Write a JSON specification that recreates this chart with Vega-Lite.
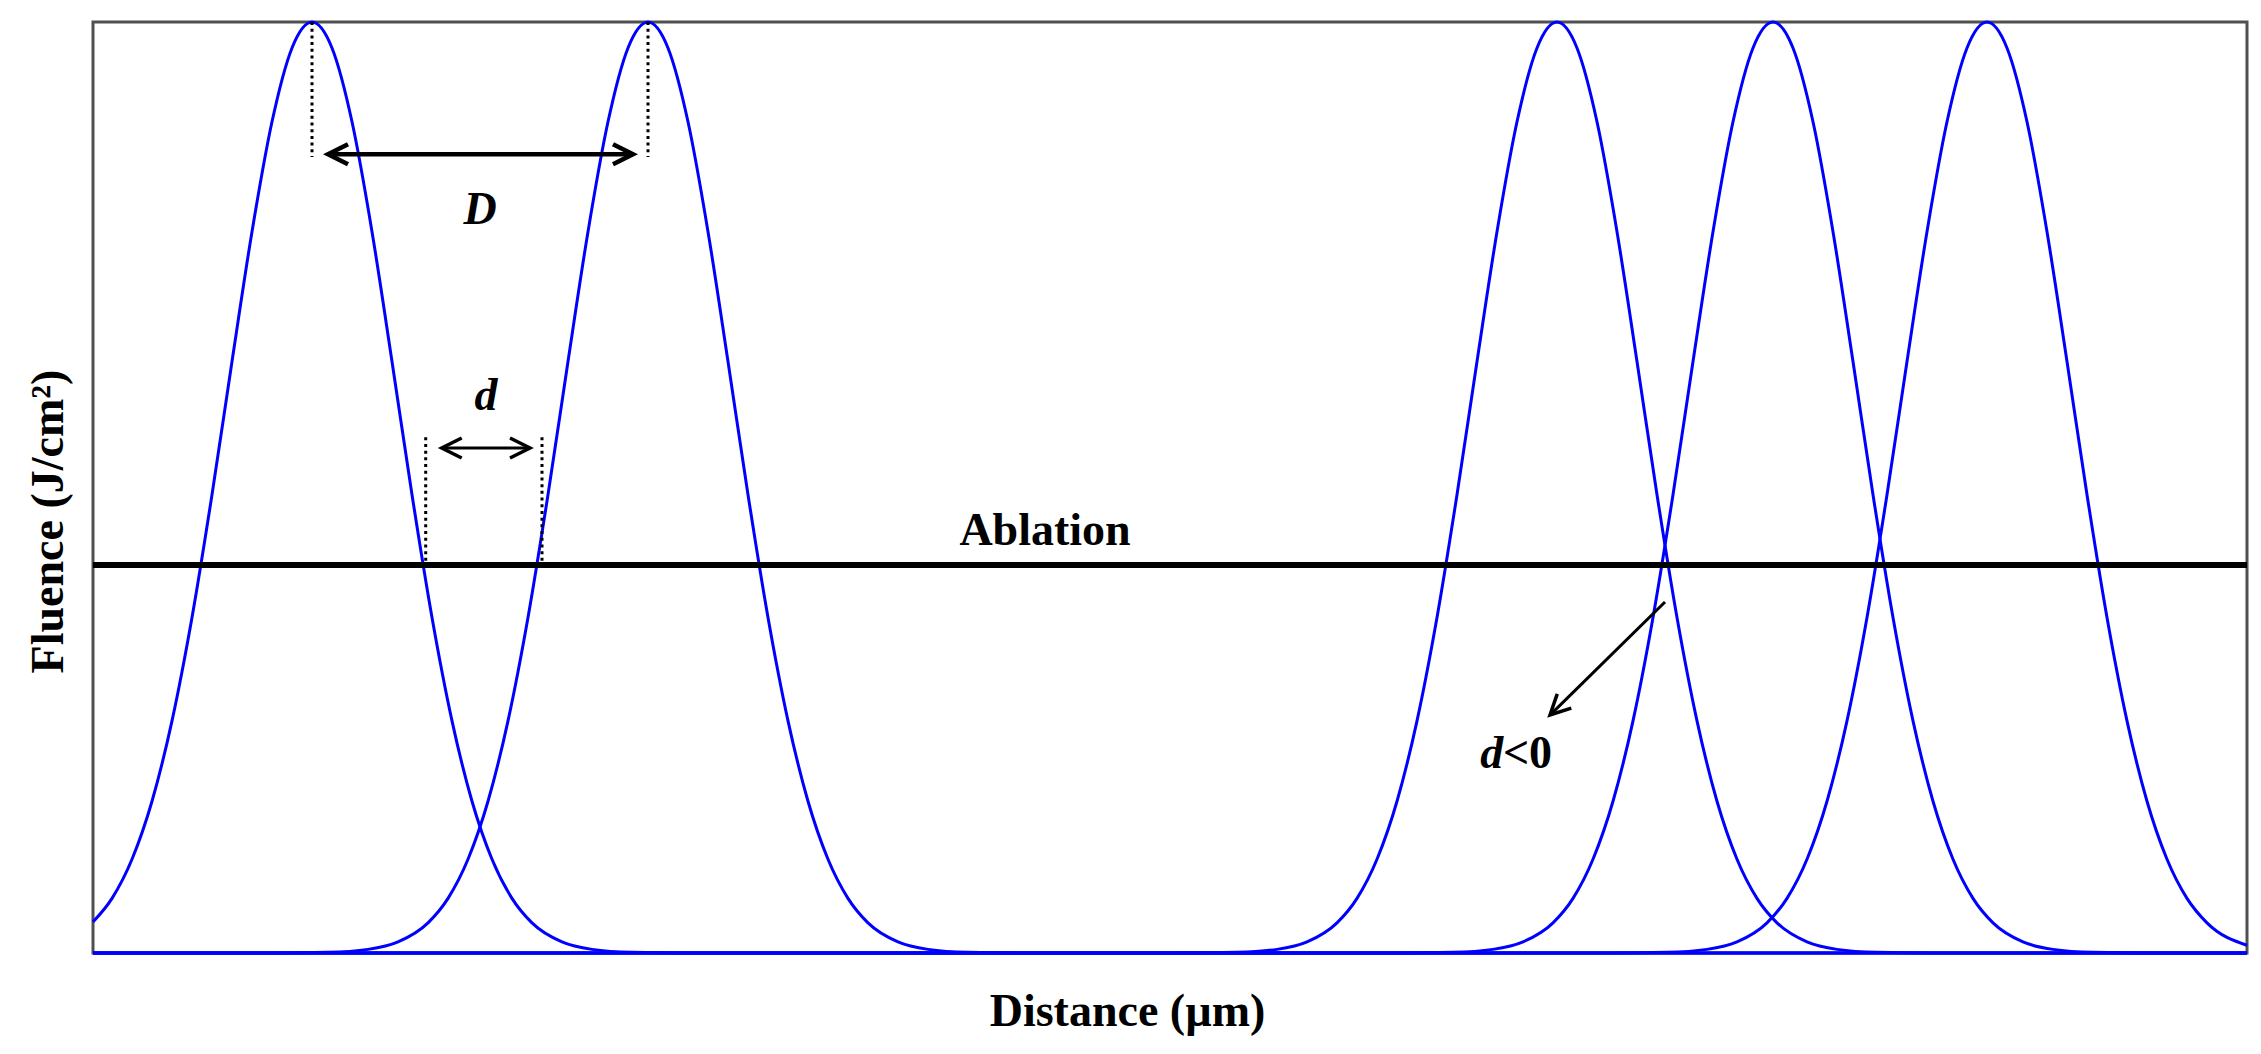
{
  "$schema": "https://vega.github.io/schema/vega-lite/v6.json",
  "width": 2154,
  "height": 931,
  "autosize": {"type": "none"},
  "padding": {"left": 93, "top": 22, "right": 14, "bottom": 101},
  "background": "white",
  "config": {
    "view": {"stroke": "#505050", "strokeWidth": 3},
    "font": "Liberation Serif",
    "axis": {"domain": false, "ticks": false, "labels": false, "grid": false, "titleFont": "Liberation Serif", "titleFontWeight": "bold", "titleFontSize": 46, "titleColor": "black"}
  },
  "datasets": {
    "curves": [
      {"s": "1", "x": 0, "y": 0.0334}, {"s": "1", "x": 1.9, "y": 0.0587}, {"s": "1", "x": 3.9, "y": 0.1007}, {"s": "1", "x": 5.9, "y": 0.163}, {"s": "1", "x": 7.9, "y": 0.2494}, {"s": "1", "x": 9.9, "y": 0.3604}, {"s": "1", "x": 11.9, "y": 0.4923}, {"s": "1", "x": 13.9, "y": 0.6354}, {"s": "1", "x": 15.9, "y": 0.7748}, {"s": "1", "x": 17.9, "y": 0.8928}, {"s": "1", "x": 19.9, "y": 0.9721}, {"s": "1", "x": 21.9, "y": 1}, {"s": "1", "x": 23.9, "y": 0.9721}, {"s": "1", "x": 25.9, "y": 0.8928}, {"s": "1", "x": 27.9, "y": 0.7748}, {"s": "1", "x": 29.9, "y": 0.6354}, {"s": "1", "x": 31.9, "y": 0.4923}, {"s": "1", "x": 33.9, "y": 0.3604}, {"s": "1", "x": 35.9, "y": 0.2494}, {"s": "1", "x": 37.9, "y": 0.163}, {"s": "1", "x": 39.9, "y": 0.1007}, {"s": "1", "x": 41.9, "y": 0.0587}, {"s": "1", "x": 43.9, "y": 0.0324}, {"s": "1", "x": 46.9, "y": 0.0119}, {"s": "1", "x": 49.9, "y": 0.0039}, {"s": "1", "x": 53.9, "y": 0.0007}, {"s": "1", "x": 59.9, "y": 0}, {"s": "1", "x": 215.4, "y": 0},
      {"s": "2", "x": 0, "y": 0}, {"s": "2", "x": 17.5, "y": 0}, {"s": "2", "x": 23.5, "y": 0.0007}, {"s": "2", "x": 27.5, "y": 0.0039}, {"s": "2", "x": 30.5, "y": 0.0119}, {"s": "2", "x": 33.5, "y": 0.0324}, {"s": "2", "x": 35.5, "y": 0.0587}, {"s": "2", "x": 37.5, "y": 0.1007}, {"s": "2", "x": 39.5, "y": 0.163}, {"s": "2", "x": 41.5, "y": 0.2494}, {"s": "2", "x": 43.5, "y": 0.3604}, {"s": "2", "x": 45.5, "y": 0.4923}, {"s": "2", "x": 47.5, "y": 0.6354}, {"s": "2", "x": 49.5, "y": 0.7748}, {"s": "2", "x": 51.5, "y": 0.8928}, {"s": "2", "x": 53.5, "y": 0.9721}, {"s": "2", "x": 55.5, "y": 1}, {"s": "2", "x": 57.5, "y": 0.9721}, {"s": "2", "x": 59.5, "y": 0.8928}, {"s": "2", "x": 61.5, "y": 0.7748}, {"s": "2", "x": 63.5, "y": 0.6354}, {"s": "2", "x": 65.5, "y": 0.4923}, {"s": "2", "x": 67.5, "y": 0.3604}, {"s": "2", "x": 69.5, "y": 0.2494}, {"s": "2", "x": 71.5, "y": 0.163}, {"s": "2", "x": 73.5, "y": 0.1007}, {"s": "2", "x": 75.5, "y": 0.0587}, {"s": "2", "x": 77.5, "y": 0.0324}, {"s": "2", "x": 80.5, "y": 0.0119}, {"s": "2", "x": 83.5, "y": 0.0039}, {"s": "2", "x": 87.5, "y": 0.0007}, {"s": "2", "x": 93.5, "y": 0}, {"s": "2", "x": 215.4, "y": 0},
      {"s": "3", "x": 0, "y": 0}, {"s": "3", "x": 108.4, "y": 0}, {"s": "3", "x": 114.4, "y": 0.0007}, {"s": "3", "x": 118.4, "y": 0.0039}, {"s": "3", "x": 121.4, "y": 0.0119}, {"s": "3", "x": 124.4, "y": 0.0324}, {"s": "3", "x": 126.4, "y": 0.0587}, {"s": "3", "x": 128.4, "y": 0.1007}, {"s": "3", "x": 130.4, "y": 0.163}, {"s": "3", "x": 132.4, "y": 0.2494}, {"s": "3", "x": 134.4, "y": 0.3604}, {"s": "3", "x": 136.4, "y": 0.4923}, {"s": "3", "x": 138.4, "y": 0.6354}, {"s": "3", "x": 140.4, "y": 0.7748}, {"s": "3", "x": 142.4, "y": 0.8928}, {"s": "3", "x": 144.4, "y": 0.9721}, {"s": "3", "x": 146.4, "y": 1}, {"s": "3", "x": 148.4, "y": 0.9721}, {"s": "3", "x": 150.4, "y": 0.8928}, {"s": "3", "x": 152.4, "y": 0.7748}, {"s": "3", "x": 154.4, "y": 0.6354}, {"s": "3", "x": 156.4, "y": 0.4923}, {"s": "3", "x": 158.4, "y": 0.3604}, {"s": "3", "x": 160.4, "y": 0.2494}, {"s": "3", "x": 162.4, "y": 0.163}, {"s": "3", "x": 164.4, "y": 0.1007}, {"s": "3", "x": 166.4, "y": 0.0587}, {"s": "3", "x": 168.4, "y": 0.0324}, {"s": "3", "x": 171.4, "y": 0.0119}, {"s": "3", "x": 174.4, "y": 0.0039}, {"s": "3", "x": 178.4, "y": 0.0007}, {"s": "3", "x": 184.4, "y": 0}, {"s": "3", "x": 215.4, "y": 0},
      {"s": "4", "x": 0, "y": 0}, {"s": "4", "x": 130, "y": 0}, {"s": "4", "x": 136, "y": 0.0007}, {"s": "4", "x": 140, "y": 0.0039}, {"s": "4", "x": 143, "y": 0.0119}, {"s": "4", "x": 146, "y": 0.0324}, {"s": "4", "x": 148, "y": 0.0587}, {"s": "4", "x": 150, "y": 0.1007}, {"s": "4", "x": 152, "y": 0.163}, {"s": "4", "x": 154, "y": 0.2494}, {"s": "4", "x": 156, "y": 0.3604}, {"s": "4", "x": 158, "y": 0.4923}, {"s": "4", "x": 160, "y": 0.6354}, {"s": "4", "x": 162, "y": 0.7748}, {"s": "4", "x": 164, "y": 0.8928}, {"s": "4", "x": 166, "y": 0.9721}, {"s": "4", "x": 168, "y": 1}, {"s": "4", "x": 170, "y": 0.9721}, {"s": "4", "x": 172, "y": 0.8928}, {"s": "4", "x": 174, "y": 0.7748}, {"s": "4", "x": 176, "y": 0.6354}, {"s": "4", "x": 178, "y": 0.4923}, {"s": "4", "x": 180, "y": 0.3604}, {"s": "4", "x": 182, "y": 0.2494}, {"s": "4", "x": 184, "y": 0.163}, {"s": "4", "x": 186, "y": 0.1007}, {"s": "4", "x": 188, "y": 0.0587}, {"s": "4", "x": 190, "y": 0.0324}, {"s": "4", "x": 193, "y": 0.0119}, {"s": "4", "x": 196, "y": 0.0039}, {"s": "4", "x": 200, "y": 0.0007}, {"s": "4", "x": 206, "y": 0}, {"s": "4", "x": 215.4, "y": 0},
      {"s": "5", "x": 0, "y": 0}, {"s": "5", "x": 151.4, "y": 0}, {"s": "5", "x": 157.4, "y": 0.0007}, {"s": "5", "x": 161.4, "y": 0.0039}, {"s": "5", "x": 164.4, "y": 0.0119}, {"s": "5", "x": 167.4, "y": 0.0324}, {"s": "5", "x": 169.4, "y": 0.0587}, {"s": "5", "x": 171.4, "y": 0.1007}, {"s": "5", "x": 173.4, "y": 0.163}, {"s": "5", "x": 175.4, "y": 0.2494}, {"s": "5", "x": 177.4, "y": 0.3604}, {"s": "5", "x": 179.4, "y": 0.4923}, {"s": "5", "x": 181.4, "y": 0.6354}, {"s": "5", "x": 183.4, "y": 0.7748}, {"s": "5", "x": 185.4, "y": 0.8928}, {"s": "5", "x": 187.4, "y": 0.9721}, {"s": "5", "x": 189.4, "y": 1}, {"s": "5", "x": 191.4, "y": 0.9721}, {"s": "5", "x": 193.4, "y": 0.8928}, {"s": "5", "x": 195.4, "y": 0.7748}, {"s": "5", "x": 197.4, "y": 0.6354}, {"s": "5", "x": 199.4, "y": 0.4923}, {"s": "5", "x": 201.4, "y": 0.3604}, {"s": "5", "x": 203.4, "y": 0.2494}, {"s": "5", "x": 205.4, "y": 0.163}, {"s": "5", "x": 207.4, "y": 0.1007}, {"s": "5", "x": 209.4, "y": 0.0587}, {"s": "5", "x": 211.4, "y": 0.0324}, {"s": "5", "x": 215.4, "y": 0.0083}
    ]
  },
  "encoding": {
    "x": {"type": "quantitative", "scale": {"domain": [0, 215.4], "nice": false, "zero": false}},
    "y": {"type": "quantitative", "scale": {"domain": [0, 1], "nice": false, "zero": false}}
  },
  "layer": [
    {
      "data": {"name": "curves"},
      "mark": {"type": "line", "color": "#0000FF", "strokeWidth": 3, "interpolate": "monotone"},
      "encoding": {
        "x": {"field": "x", "type": "quantitative", "title": "Distance (µm)", "axis": {"titleX": 1034, "titleY": 72, "titleAlign": "center", "titleBaseline": "alphabetic", "titleAnchor": null}},
        "y": {"field": "y", "type": "quantitative", "title": "Fluence (J/cm²)", "axis": {"titleX": -31, "titleY": 499, "titleAngle": -90, "titleAlign": "center", "titleBaseline": "alphabetic", "titleAnchor": null}},
        "detail": {"field": "s"}
      }
    },
    {
      "data": {"values": [{"level": 0.4168}]},
      "mark": {"type": "rule", "color": "black", "strokeWidth": 6},
      "encoding": {"y": {"field": "level", "type": "quantitative"}}
    },
    {
      "data": {"values": [
        {"x": 21.9, "y": 1, "y2": 0.855},
        {"x": 55.5, "y": 1, "y2": 0.855},
        {"x": 33.27, "y": 0.554, "y2": 0.4168},
        {"x": 44.9, "y": 0.554, "y2": 0.4168}
      ]},
      "mark": {"type": "rule", "color": "black", "strokeWidth": 3, "strokeDash": [3, 3.7]},
      "encoding": {"x": {"field": "x", "type": "quantitative"}, "y": {"field": "y", "type": "quantitative"}, "y2": {"field": "y2"}}
    },
    {
      "data": {"values": [{"x": 23.7, "x2": 53.8, "y": 0.858}]},
      "mark": {"type": "rule", "color": "black", "strokeWidth": 4.5},
      "encoding": {"x": {"field": "x", "type": "quantitative"}, "x2": {"field": "x2"}, "y": {"field": "y", "type": "quantitative"}}
    },
    {
      "data": {"values": [
        {"x": 35.0, "x2": 43.6, "y": 0.5424, "y2": 0.5424},
        {"x": 157.2, "x2": 145.8, "y": 0.377, "y2": 0.2566}
      ]},
      "mark": {"type": "rule", "color": "black", "strokeWidth": 3},
      "encoding": {"x": {"field": "x", "type": "quantitative"}, "x2": {"field": "x2"}, "y": {"field": "y", "type": "quantitative"}, "y2": {"field": "y2"}}
    },
    {
      "data": {"values": [{"x": 23.5, "y": 0.858}]},
      "mark": {"type": "point", "shape": "M2,-1L0,0L2,1", "filled": false, "color": "black", "strokeWidth": 4.5, "size": 400, "opacity": 1},
      "encoding": {"x": {"field": "x", "type": "quantitative"}, "y": {"field": "y", "type": "quantitative"}}
    },
    {
      "data": {"values": [{"x": 54.0, "y": 0.858}]},
      "mark": {"type": "point", "shape": "M-2,-1L0,0L-2,1", "filled": false, "color": "black", "strokeWidth": 4.5, "size": 400, "opacity": 1},
      "encoding": {"x": {"field": "x", "type": "quantitative"}, "y": {"field": "y", "type": "quantitative"}}
    },
    {
      "data": {"values": [{"x": 34.87, "y": 0.5424}]},
      "mark": {"type": "point", "shape": "M2,-1L0,0L2,1", "filled": false, "color": "black", "strokeWidth": 3.5, "size": 400, "opacity": 1},
      "encoding": {"x": {"field": "x", "type": "quantitative"}, "y": {"field": "y", "type": "quantitative"}}
    },
    {
      "data": {"values": [{"x": 43.7, "y": 0.5424}]},
      "mark": {"type": "point", "shape": "M-2,-1L0,0L-2,1", "filled": false, "color": "black", "strokeWidth": 3.5, "size": 400, "opacity": 1},
      "encoding": {"x": {"field": "x", "type": "quantitative"}, "y": {"field": "y", "type": "quantitative"}}
    },
    {
      "data": {"values": [{"x": 145.7, "y": 0.2556}]},
      "mark": {"type": "point", "shape": "M2,-1L0,0L2,1", "filled": false, "color": "black", "strokeWidth": 3.5, "size": 400, "opacity": 1, "angle": 315.5},
      "encoding": {"x": {"field": "x", "type": "quantitative"}, "y": {"field": "y", "type": "quantitative"}}
    },
    {
      "data": {"values": [
        {"label": "D", "x": 38.7, "y": 0.783},
        {"label": "d", "x": 39.3, "y": 0.5833},
        {"label": "d", "x": 139.87, "y": 0.1987}
      ]},
      "mark": {"type": "text", "font": "Liberation Serif", "fontWeight": "bold", "fontStyle": "italic", "fontSize": 46, "color": "black", "align": "center", "baseline": "alphabetic"},
      "encoding": {"x": {"field": "x", "type": "quantitative"}, "y": {"field": "y", "type": "quantitative"}, "text": {"field": "label"}}
    },
    {
      "data": {"values": [
        {"label": "Ablation", "x": 95.2, "y": 0.4382},
        {"label": "<0", "x": 143.45, "y": 0.1987}
      ]},
      "mark": {"type": "text", "font": "Liberation Serif", "fontWeight": "bold", "fontSize": 46, "color": "black", "align": "center", "baseline": "alphabetic"},
      "encoding": {"x": {"field": "x", "type": "quantitative"}, "y": {"field": "y", "type": "quantitative"}, "text": {"field": "label"}}
    }
  ]
}
